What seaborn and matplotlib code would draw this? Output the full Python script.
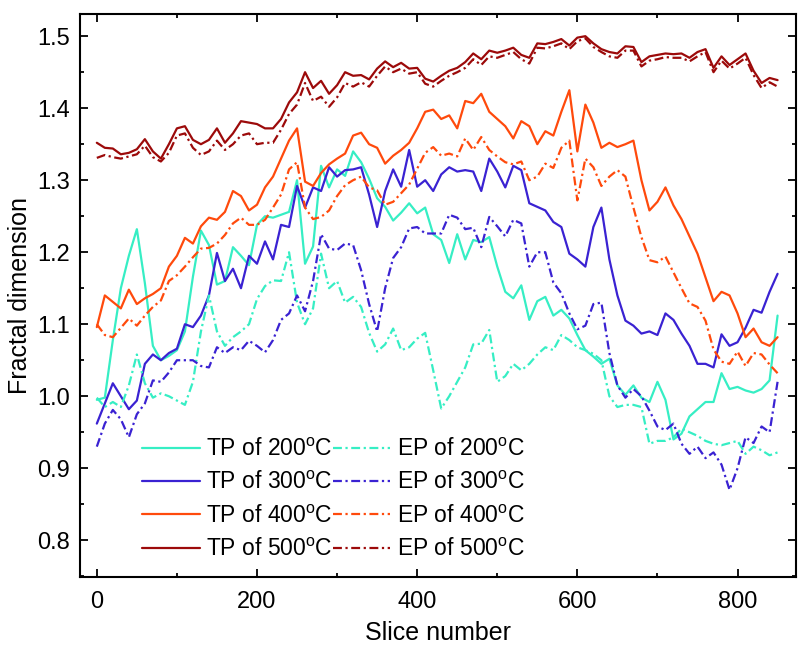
import numpy as np
import pandas as pd
import matplotlib.pyplot as plt
import seaborn as sns
from matplotlib.ticker import MultipleLocator

# slice positions (every 10th slice)
slices = np.arange(0, 851, 10)

tp200 = [0.995, 0.998, 1.078, 1.150, 1.195, 1.232, 1.157, 1.070, 1.050, 1.056,
         1.064, 1.090, 1.166, 1.230, 1.210, 1.155, 1.160, 1.207, 1.195, 1.182,
         1.238, 1.250, 1.248, 1.252, 1.256, 1.300, 1.184, 1.208, 1.320, 1.290,
         1.315, 1.306, 1.340, 1.325, 1.302, 1.275, 1.263, 1.244, 1.255, 1.268,
         1.254, 1.262, 1.225, 1.217, 1.185, 1.225, 1.190, 1.217, 1.214, 1.221,
         1.180, 1.145, 1.136, 1.154, 1.106, 1.132, 1.138, 1.112, 1.120, 1.108,
         1.085, 1.064, 1.055, 1.045, 1.052, 1.015, 1.002, 1.015, 0.998, 0.992,
         1.020, 0.995, 0.940, 0.948, 0.972, 0.982, 0.992, 0.992, 1.032, 1.010,
         1.013, 1.008, 1.005, 1.010, 1.022, 1.112]
tp300 = [0.962, 0.990, 1.018, 1.000, 0.982, 0.994, 1.045, 1.058, 1.050, 1.060,
         1.066, 1.100, 1.096, 1.112, 1.140, 1.199, 1.160, 1.177, 1.150, 1.195,
         1.184, 1.215, 1.190, 1.238, 1.235, 1.292, 1.262, 1.290, 1.285, 1.318,
         1.305, 1.314, 1.315, 1.318, 1.280, 1.235, 1.285, 1.315, 1.291, 1.342,
         1.291, 1.300, 1.285, 1.308, 1.318, 1.312, 1.314, 1.312, 1.285, 1.330,
         1.312, 1.290, 1.320, 1.314, 1.268, 1.263, 1.258, 1.242, 1.235, 1.198,
         1.190, 1.180, 1.235, 1.262, 1.190, 1.140, 1.105, 1.098, 1.087, 1.090,
         1.085, 1.115, 1.106, 1.087, 1.070, 1.045, 1.045, 1.040, 1.086, 1.070,
         1.075, 1.095, 1.120, 1.116, 1.145, 1.170]
tp400 = [1.096, 1.140, 1.131, 1.122, 1.148, 1.128, 1.136, 1.142, 1.150, 1.180,
         1.195, 1.220, 1.212, 1.236, 1.248, 1.245, 1.256, 1.285, 1.278, 1.258,
         1.266, 1.290, 1.305, 1.330, 1.355, 1.372, 1.298, 1.292, 1.310, 1.322,
         1.330, 1.337, 1.362, 1.366, 1.350, 1.345, 1.323, 1.334, 1.342, 1.352,
         1.372, 1.395, 1.398, 1.385, 1.390, 1.372, 1.410, 1.407, 1.420, 1.395,
         1.385, 1.375, 1.358, 1.382, 1.375, 1.350, 1.368, 1.362, 1.395, 1.425,
         1.340, 1.405, 1.380, 1.345, 1.352, 1.346, 1.350, 1.355, 1.300, 1.258,
         1.270, 1.290, 1.265, 1.246, 1.222, 1.198, 1.165, 1.132, 1.145, 1.140,
         1.115, 1.082, 1.094, 1.075, 1.070, 1.082]
tp500 = [1.352, 1.345, 1.344, 1.336, 1.338, 1.343, 1.357, 1.340, 1.330, 1.350,
         1.372, 1.375, 1.356, 1.350, 1.356, 1.372, 1.352, 1.365, 1.382, 1.380,
         1.378, 1.372, 1.372, 1.385, 1.408, 1.422, 1.450, 1.428, 1.438, 1.420,
         1.432, 1.450, 1.445, 1.446, 1.440, 1.455, 1.465, 1.457, 1.463, 1.455,
         1.456, 1.441, 1.437, 1.445, 1.452, 1.456, 1.464, 1.476, 1.468, 1.480,
         1.477, 1.480, 1.484, 1.474, 1.470, 1.490, 1.489, 1.492, 1.496, 1.487,
         1.498, 1.500, 1.490, 1.482, 1.478, 1.476, 1.486, 1.485, 1.464, 1.472,
         1.474, 1.476, 1.475, 1.476, 1.470, 1.478, 1.482, 1.456, 1.472, 1.460,
         1.468, 1.476, 1.452, 1.435, 1.442, 1.439]

ep200 = [0.998, 0.985, 0.992, 0.985, 1.015, 1.058, 1.018, 0.998, 1.004, 1.000,
         0.994, 0.988, 1.020, 1.090, 1.140, 1.090, 1.070, 1.082, 1.090, 1.100,
         1.135, 1.153, 1.161, 1.160, 1.200, 1.130, 1.100, 1.122, 1.198, 1.150,
         1.160, 1.130, 1.138, 1.124, 1.088, 1.062, 1.072, 1.094, 1.064, 1.068,
         1.080, 1.088, 1.036, 0.983, 1.000, 1.020, 1.040, 1.072, 1.073, 1.092,
         1.020, 1.028, 1.045, 1.036, 1.045, 1.058, 1.068, 1.064, 1.085, 1.078,
         1.068, 1.064, 1.059, 1.050, 1.000, 0.985, 0.988, 0.988, 0.985, 0.934,
         0.938, 0.938, 0.943, 0.955, 0.950, 0.945, 0.938, 0.934, 0.932, 0.935,
         0.938, 0.920, 0.930, 0.925, 0.918, 0.922]
ep300 = [0.930, 0.962, 0.981, 0.968, 0.943, 0.975, 0.990, 1.022, 1.020, 1.033,
         1.050, 1.050, 1.050, 1.042, 1.040, 1.068, 1.060, 1.068, 1.064, 1.077,
         1.070, 1.061, 1.078, 1.106, 1.115, 1.140, 1.118, 1.160, 1.225, 1.205,
         1.203, 1.212, 1.210, 1.175, 1.128, 1.090, 1.150, 1.192, 1.207, 1.233,
         1.235, 1.226, 1.226, 1.226, 1.252, 1.248, 1.232, 1.234, 1.207, 1.249,
         1.236, 1.222, 1.245, 1.240, 1.180, 1.200, 1.200, 1.158, 1.143, 1.115,
         1.093, 1.098, 1.128, 1.130, 1.060, 1.015, 0.998, 1.010, 1.000, 0.980,
         0.958, 0.953, 0.962, 0.934, 0.920, 0.930, 0.914, 0.922, 0.905, 0.870,
         0.900, 0.943, 0.935, 0.958, 0.950, 1.020]
ep400 = [1.100, 1.085, 1.082, 1.095, 1.108, 1.098, 1.112, 1.124, 1.133, 1.160,
         1.168, 1.180, 1.193, 1.205, 1.206, 1.212, 1.224, 1.240, 1.248, 1.238,
         1.238, 1.245, 1.262, 1.280, 1.315, 1.325, 1.262, 1.246, 1.249, 1.258,
         1.278, 1.293, 1.300, 1.305, 1.290, 1.286, 1.266, 1.270, 1.282, 1.294,
         1.316, 1.338, 1.346, 1.334, 1.337, 1.333, 1.358, 1.342, 1.360, 1.342,
         1.333, 1.325, 1.322, 1.326, 1.300, 1.305, 1.323, 1.317, 1.345, 1.355,
         1.272, 1.330, 1.318, 1.292, 1.305, 1.314, 1.305, 1.262, 1.221, 1.189,
         1.186, 1.194, 1.172, 1.150, 1.129, 1.124, 1.105, 1.065, 1.048, 1.045,
         1.062, 1.042, 1.060, 1.058, 1.044, 1.032]
ep500 = [1.331, 1.335, 1.332, 1.330, 1.333, 1.336, 1.348, 1.332, 1.326, 1.338,
         1.362, 1.365, 1.345, 1.335, 1.340, 1.355, 1.342, 1.350, 1.362, 1.365,
         1.350, 1.352, 1.352, 1.370, 1.392, 1.405, 1.435, 1.410, 1.416, 1.402,
         1.415, 1.435, 1.430, 1.436, 1.430, 1.445, 1.458, 1.450, 1.455, 1.448,
         1.450, 1.434, 1.430, 1.438, 1.445, 1.450, 1.456, 1.468, 1.460, 1.472,
         1.470, 1.474, 1.478, 1.468, 1.462, 1.484, 1.483, 1.486, 1.490, 1.482,
         1.493, 1.497, 1.485, 1.478, 1.472, 1.470, 1.480, 1.480, 1.458, 1.466,
         1.468, 1.471, 1.470, 1.470, 1.465, 1.472, 1.478, 1.450, 1.466, 1.455,
         1.462, 1.470, 1.446, 1.428, 1.436, 1.430]

temps = ["200", "300", "400", "500"]
colors = ["#36EEC4", "#3A22D2", "#FF4A0C", "#9C0A0A"]
tp = [tp200, tp300, tp400, tp500]
ep = [ep200, ep300, ep400, ep500]

sns.set_style("ticks")
plt.rcParams['font.family'] = ['Liberation Sans', 'DejaVu Sans']
plt.rcParams['mathtext.fontset'] = 'custom'
plt.rcParams['mathtext.rm'] = 'Liberation Sans'
plt.rcParams['text.color'] = 'black'
plt.rcParams['axes.labelcolor'] = 'black'
plt.rcParams['axes.edgecolor'] = 'black'
plt.rcParams['xtick.color'] = 'black'
plt.rcParams['ytick.color'] = 'black'

fig = plt.figure(figsize=(8, 6.51), dpi=100)
ax = fig.add_axes([0.1, 0.1137, 0.895, 0.865])

dashdot = (0, (4, 1.6, 1, 1.6))
for t, c, y in zip(temps, colors, tp):
    sns.lineplot(x=slices, y=y, ax=ax, color=c, lw=1.6,
                 label=r"TP of %s$^\mathrm{o}$C" % t)
for t, c, y in zip(temps, colors, ep):
    sns.lineplot(x=slices, y=y, ax=ax, color=c, lw=1.6, linestyle=dashdot,
                 label=r"EP of %s$^\mathrm{o}$C" % t)

ax.set_xlim(-21, 873)
ax.set_ylim(0.749, 1.531)
ax.xaxis.set_major_locator(MultipleLocator(200))
ax.xaxis.set_minor_locator(MultipleLocator(100))
ax.yaxis.set_major_locator(MultipleLocator(0.1))
ax.yaxis.set_minor_locator(MultipleLocator(0.05))
ax.tick_params(which='both', direction='in', top=True, right=True,
               width=1.3, labelsize=17)
ax.tick_params(which='major', length=6)
ax.tick_params(which='minor', length=3)
ax.tick_params(axis='x', which='major', pad=10)
ax.tick_params(axis='y', which='major', pad=7)
for s in ax.spines.values():
    s.set_linewidth(1.5)

ax.set_xlabel("Slice number", fontsize=18, labelpad=6)
ax.set_ylabel("Fractal dimension", fontsize=18)

ax.legend(ncol=2, loc='upper left', bbox_to_anchor=(0.087, 0.247),
          frameon=False, fontsize=16.5, borderpad=0, borderaxespad=0,
          handlelength=2.5, handletextpad=0.3, columnspacing=0.0,
          labelspacing=0.45)

fig.savefig("out.png", dpi=100)
